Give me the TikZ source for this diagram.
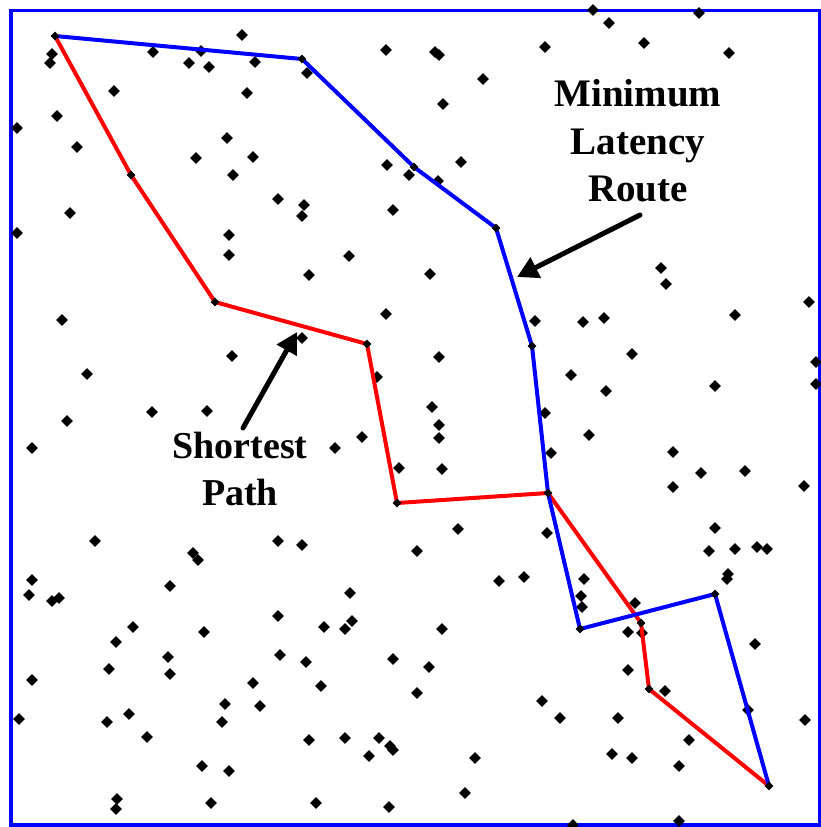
\documentclass[tikz,border=0pt]{standalone}
\usepackage{fontspec}
\setmainfont{Liberation Serif}
\usetikzlibrary{shapes.geometric,arrows.meta}
\begin{document}
\begin{tikzpicture}[x=1pt,y=-1pt,
  dot/.style={diamond,fill=black,inner sep=0pt,minimum size=12pt},
  frame/.style={draw=blue,line width=3.5pt},
  latroute/.style={draw=blue,line width=4pt,line join=round},
  shortroute/.style={draw=red,line width=4pt,line join=round},
  pointer/.style={draw=black,line width=5pt,line cap=round,-{Triangle[length=21pt,width=22pt]}},
  lbl/.style={font=\bfseries\fontsize{39}{47.5}\selectfont,align=center,inner sep=0pt}]
\useasboundingbox (0,0) rectangle (821,827);
\fill[white] (0,0) rectangle (821,827);
\draw[frame] (11,10.5) rectangle (819.5,825);
% scattered nodes
\foreach \x/\y [count=\i] in {
52/54, 50/63, 153/52, 189/63, 201/51, 209/67, 242/35, 255/62, 114/91, 247/93, 57/116, 17/128, 77/147, 227/138, 196/158, 253/157, 233/175, 278/199, 70/213, 17/233, 229/235, 229/255,
307/73, 386/50, 435/52, 439/55, 545/47, 483/79, 443/104, 387/165, 409/175, 438/181, 461/162, 304/205, 302/216, 393/210, 349/256, 309/275, 430/274,
593/10, 699/13, 609/23, 644/43, 729/53, 661/268,
62/320, 232/356, 87/374, 152/412, 207/411, 67/421, 32/448, 95/541, 278/541,
386/314, 302/338, 377/377, 439/357, 432/407, 439/425, 439/438, 362/437, 335/448, 399/468, 442/469, 535/321, 545/413, 551/453, 458/529, 302/545, 417/551,
666/284, 809/302, 735/315, 583/322, 604/318, 632/354, 816/362, 571/375, 606/391, 715/386, 816/384, 589/435, 673/452, 701/473, 745/471, 673/487, 804/486, 547/533, 715/528, 709/551, 735/549, 757/547, 767/549,
193/553, 198/560, 32/580, 29/595, 52/601, 59/598, 170/586, 133/627, 116/642, 204/632, 168/657, 170/674, 109/669, 32/680, 253/683, 225/704, 260/706, 222/722, 19/719, 107/722, 129/714, 147/737, 202/766, 229/771, 117/799, 116/809, 211/803, 278/616, 280/655,
499/581, 524/577, 350/593, 324/627, 345/629, 352/621, 442/629, 306/662, 393/659, 429/667, 321/686, 417/693, 542/701, 309/740, 345/738, 379/738, 390/746, 393/750, 369/756, 475/758, 465/793, 316/803, 389/807,
728/574, 727/579, 584/579, 581/596, 582/607, 635/603, 628/632, 642/633, 755/644, 628/670, 665/691, 560/718, 618/718, 748/710, 805/720, 689/740, 612/754, 632/758, 679/766, 573/825, 679/821}
  \node[dot] (d\i) at (\x,\y) {};
% route vertices
\coordinate (s) at (55,36);
\coordinate (b1) at (302,59);
\coordinate (b2) at (414,167);
\coordinate (b3) at (496,228);
\coordinate (b4) at (532,346);
\coordinate (j) at (548,493);
\coordinate (b5) at (580,629);
\coordinate (b6) at (715,594);
\coordinate (e) at (769,786);
\coordinate (r1) at (131,175);
\coordinate (r2) at (215,302);
\coordinate (r3) at (367,344);
\coordinate (r4) at (397,503);
\coordinate (r5) at (641,623);
\coordinate (r6) at (649,689);
\draw[shortroute] (s) -- (r1) -- (r2) -- (r3) -- (r4) -- (j) -- (r5) -- (r6) -- (e);
\draw[latroute] (s) -- (b1) -- (b2) -- (b3) -- (b4) -- (j) -- (b5) -- (b6) -- (e);
\foreach \v in {s,b1,b2,b3,b4,j,b5,b6,e,r1,r2,r3,r4,r5,r6}
  \node[dot,minimum size=9pt] (v\v) at (\v) {};
% labels
\node[lbl] (mlr) at (638,141) {Minimum\\Latency\\Route};
\node[lbl,font=\bfseries\fontsize{38}{47}\selectfont] (sp) at (240,469) {Shortest\\Path};
\coordinate (mtail) at (640,215);
\coordinate (mtip) at (517,277);
\coordinate (stail) at (243,428);
\coordinate (stip) at (297,332);
\draw[pointer] (mtail) -- (mtip);
\draw[pointer] (stail) -- (stip);
\end{tikzpicture}
\end{document}
